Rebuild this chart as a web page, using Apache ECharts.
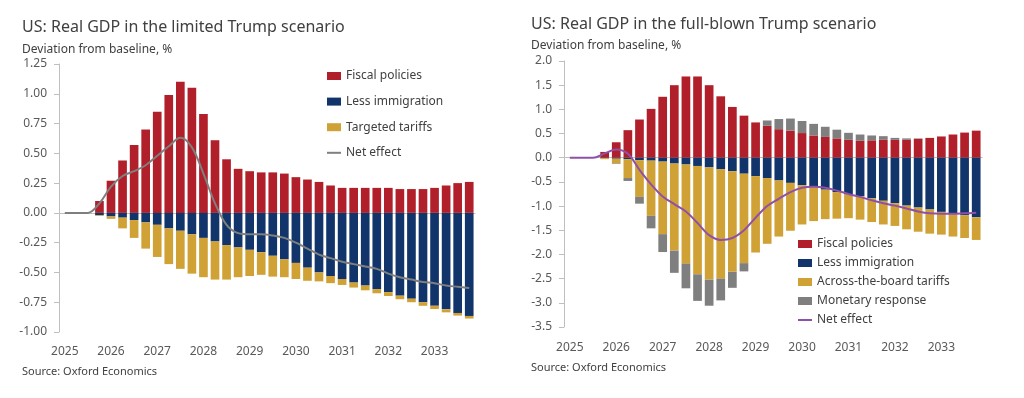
<!DOCTYPE html>
<html>
<head>
<meta charset="utf-8">
<title>US: Real GDP in Trump scenarios</title>
<script src="https://cdn.jsdelivr.net/npm/echarts@6/dist/echarts.min.js"></script>
<style>
    html, body { margin: 0; padding: 0; background: #fff; }
    #main { width: 1024px; height: 398px; }
</style>
</head>
<body>
<div id="main"></div>
<script>
    // quarters 2025 Q1 .. 2033 Q4
    var years = [2025, 2026, 2027, 2028, 2029, 2030, 2031, 2032, 2033];
    var quarters = [];
    years.forEach(function (y) {
        for (var q = 1; q <= 4; q++) quarters.push(y + ' Q' + q);
    });

    // limited scenario (left)
    var limFiscal = [0, 0, 0, 0.10, 0.27, 0.44, 0.57, 0.70, 0.85, 0.99, 1.10, 1.05,
        0.83, 0.61, 0.45, 0.37, 0.35, 0.34, 0.34, 0.33, 0.30, 0.28, 0.26, 0.23,
        0.21, 0.21, 0.21, 0.21, 0.21, 0.20, 0.20, 0.20, 0.21, 0.23, 0.25, 0.26];
    var limImmig = [0, 0, 0, -0.02, -0.03, -0.04, -0.06, -0.08, -0.10, -0.13, -0.15, -0.18,
        -0.21, -0.24, -0.27, -0.29, -0.31, -0.33, -0.36, -0.39, -0.42, -0.46, -0.50, -0.53,
        -0.555, -0.585, -0.61, -0.64, -0.665, -0.695, -0.72, -0.75, -0.78, -0.81, -0.84, -0.865];
    var limTariffs = [0, 0, 0, -0.005, -0.02, -0.09, -0.15, -0.22, -0.27, -0.30, -0.32, -0.33,
        -0.33, -0.32, -0.29, -0.25, -0.22, -0.19, -0.175, -0.15, -0.135, -0.11, -0.075, -0.06,
        -0.05, -0.042, -0.04, -0.035, -0.033, -0.03, -0.03, -0.03, -0.027, -0.025, -0.022, -0.022];
    var limNet = [0, 0, 0, 0.08, 0.22, 0.31, 0.35, 0.40, 0.48, 0.56, 0.63, 0.55,
        0.33, 0.08, -0.10, -0.17, -0.18, -0.18, -0.19, -0.21, -0.25, -0.30, -0.35, -0.38,
        -0.41, -0.43, -0.45, -0.47, -0.51, -0.54, -0.56, -0.58, -0.59, -0.61, -0.62, -0.63];

    // full-blown scenario (right)
    var fullFiscal = [0, 0, 0, 0.12, 0.32, 0.57, 0.79, 1.01, 1.26, 1.50, 1.68, 1.68,
        1.50, 1.27, 1.05, 0.87, 0.73, 0.66, 0.59, 0.56, 0.51, 0.46, 0.43, 0.40,
        0.37, 0.35, 0.36, 0.37, 0.37, 0.37, 0.39, 0.41, 0.44, 0.48, 0.52, 0.56];
    var fullImmig = [0, 0, 0, -0.01, -0.02, -0.03, -0.05, -0.06, -0.08, -0.12, -0.14, -0.17,
        -0.20, -0.24, -0.28, -0.33, -0.38, -0.42, -0.47, -0.52, -0.57, -0.61, -0.66, -0.71,
        -0.76, -0.80, -0.84, -0.89, -0.94, -0.99, -1.03, -1.07, -1.12, -1.15, -1.19, -1.23];
    var fullTariffs = [0, 0, 0, -0.02, -0.10, -0.39, -0.76, -1.14, -1.50, -1.80, -2.05, -2.24,
        -2.32, -2.26, -2.08, -1.85, -1.58, -1.36, -1.16, -0.99, -0.81, -0.70, -0.61, -0.55,
        -0.49, -0.48, -0.49, -0.49, -0.47, -0.49, -0.50, -0.50, -0.47, -0.48, -0.47, -0.47];
    var fullMonetary = [0, 0, 0, 0, -0.01, -0.06, -0.14, -0.26, -0.37, -0.46, -0.51, -0.55,
        -0.54, -0.45, -0.33, -0.17, 0, 0.11, 0.21, 0.25, 0.25, 0.24, 0.21, 0.18,
        0.145, 0.13, 0.10, 0.076, 0.04, 0.03, 0.01, 0, 0, 0, 0, 0];
    var fullNet = [0, 0, 0, 0.09, 0.17, 0.08, -0.25, -0.55, -0.80, -0.96, -1.11, -1.35,
        -1.60, -1.70, -1.66, -1.50, -1.24, -1.00, -0.85, -0.71, -0.62, -0.60, -0.62, -0.68,
        -0.75, -0.81, -0.88, -0.94, -0.99, -1.05, -1.11, -1.15, -1.16, -1.16, -1.15, -1.14];

    var RED = '#B1202A', NAVY = '#11356A', GOLD = '#D0A236', GREY = '#7F7F7F', PURPLE = '#9050A8';
    var TXT = '#404040', AXT = '#595959', AXL = '#BFBFBF';
    var FONT = '"Noto Sans", sans-serif';
    var LINE_ICON = 'path://M0,0H14V2H0Z';

    function xAxes(gi, margin) {
        return [{
            gridIndex: gi,
            type: 'category',
            data: quarters,
            position: 'bottom',
            axisLine: { show: false, onZero: false },
            axisTick: { show: false },
            axisLabel: {
                interval: 3, margin: margin, color: AXT, fontSize: 12, fontFamily: FONT,
                formatter: function (v) { return v.slice(0, 4); }
            }
        }, {
            // zero line
            gridIndex: gi,
            type: 'category',
            data: quarters,
            position: 'top',
            axisLine: { onZero: true, lineStyle: { color: AXL } },
            axisTick: { interval: 3, length: 3, lineStyle: { color: AXL } },
            axisLabel: { show: false }
        }];
    }

    function yAxis(gi, min, max, step, dec) {
        return {
            gridIndex: gi,
            type: 'value',
            min: min, max: max, interval: step,
            axisLine: { show: true, lineStyle: { color: AXL } },
            axisTick: { show: true, length: 5, lineStyle: { color: AXL } },
            splitLine: { show: false },
            axisLabel: {
                margin: 12, color: AXT, fontSize: 12, fontFamily: FONT,
                formatter: function (v) { return v.toFixed(dec); }
            }
        };
    }

    function bar(name, data, color, xi, yi, stack) {
        return {
            name: name, type: 'bar', data: data, stack: stack,
            xAxisIndex: xi, yAxisIndex: yi,
            barCategoryGap: '25%',
            itemStyle: { color: color },
            emphasis: { disabled: true }
        };
    }

    function line(name, data, color, xi, yi) {
        return {
            name: name, type: 'line', data: data,
            xAxisIndex: xi, yAxisIndex: yi,
            symbol: 'none', smooth: 0.35, z: 5,
            lineStyle: { color: color, width: 2 },
            itemStyle: { color: color }
        };
    }

    function txt(text, left, top, size) {
        return {
            text: text, left: left, top: top, padding: 0,
            textStyle: { fontSize: size, fontWeight: 'normal', color: TXT, fontFamily: FONT }
        };
    }

    var legendBase = {
        orient: 'vertical', itemWidth: 14, itemHeight: 8, selectedMode: false,
        textStyle: { fontSize: 12, color: TXT, fontFamily: FONT }
    };

    var chart = echarts.init(document.getElementById('main'));
    chart.setOption({
        backgroundColor: '#fff',
        animation: false,
        title: [
            txt('US: Real GDP in the limited Trump scenario', 22, 19, 16),
            txt('Deviation from baseline, %', 22, 44, 12),
            txt('Source: Oxford Economics', 22, 366, 11),
            txt('US: Real GDP in the full-blown Trump scenario', 531, 16, 16),
            txt('Deviation from baseline, %', 531, 40, 12),
            txt('Source: Oxford Economics', 531, 362, 11)
        ],
        legend: [
            Object.assign({}, legendBase, {
                left: 322, top: 65, itemGap: 13.6,
                data: [
                    { name: 'Fiscal policies', icon: 'rect' },
                    { name: 'Less immigration', icon: 'rect' },
                    { name: 'Targeted tariffs', icon: 'rect' },
                    { name: 'Net effect', icon: LINE_ICON }
                ]
            }),
            Object.assign({}, legendBase, {
                left: 793, top: 233, itemGap: 7,
                data: [
                    { name: 'Fiscal policies', icon: 'rect' },
                    { name: 'Less immigration', icon: 'rect' },
                    { name: 'Across-the-board tariffs', icon: 'rect' },
                    { name: 'Monetary response', icon: 'rect' },
                    { name: 'Net effect', icon: LINE_ICON, itemStyle: { color: PURPLE }, lineStyle: { color: PURPLE } }
                ]
            })
        ],
        grid: [
            { left: 59, top: 64, width: 416, height: 268, outerBoundsMode: 'none' },
            { left: 564, top: 61, width: 418, height: 266, outerBoundsMode: 'none' }
        ],
        xAxis: xAxes(0, 14).concat(xAxes(1, 15)),
        yAxis: [
            yAxis(0, -1, 1.25, 0.25, 2),
            yAxis(1, -3.5, 2, 0.5, 1)
        ],
        series: [
            bar('Fiscal policies', limFiscal, RED, 0, 0, 'L'),
            bar('Less immigration', limImmig, NAVY, 0, 0, 'L'),
            bar('Targeted tariffs', limTariffs, GOLD, 0, 0, 'L'),
            line('Net effect', limNet, GREY, 0, 0),

            bar('Fiscal policies', fullFiscal, RED, 2, 1, 'R'),
            bar('Less immigration', fullImmig, NAVY, 2, 1, 'R'),
            bar('Across-the-board tariffs', fullTariffs, GOLD, 2, 1, 'R'),
            bar('Monetary response', fullMonetary, GREY, 2, 1, 'R'),
            line('Net effect', fullNet, PURPLE, 2, 1)
        ]
    });
</script>
</body>
</html>
